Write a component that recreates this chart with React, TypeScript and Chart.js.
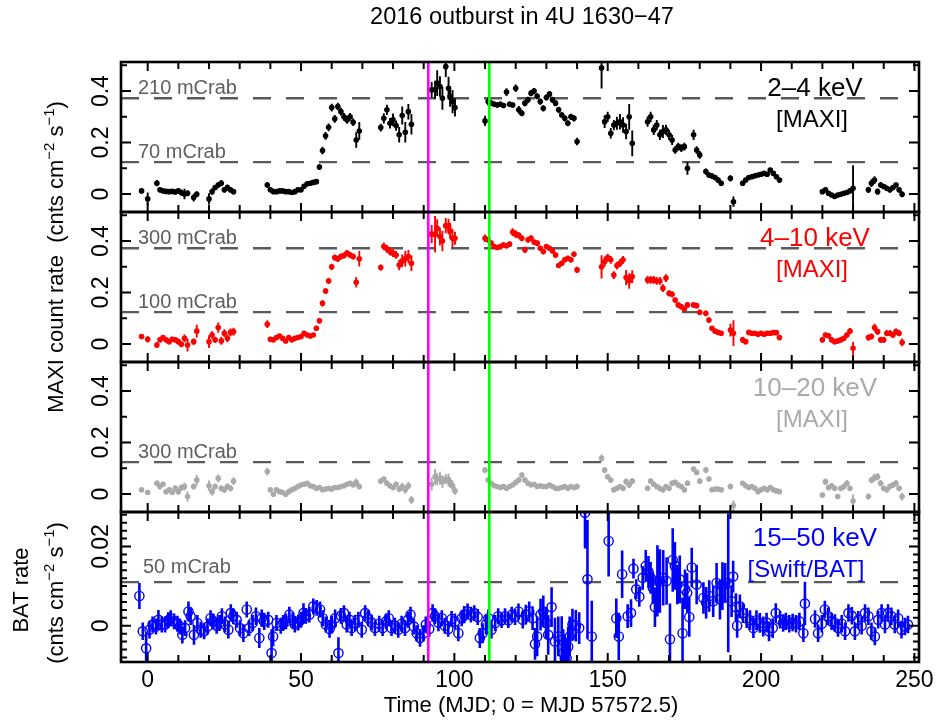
import React, { useEffect, useRef } from "react";
import { Chart, registerables } from "chart.js";

Chart.register(...registerables);

// ---------------- data ----------------
// MAXI sampling days (days since MJD 57572.5)
const maxiDays = [
  -2, 0,
  3, 4, 5, 6, 7, 8, 9, 10, 11, 12, 13,
  15, 16,
  20, 21, 22, 23, 24, 25, 26, 27, 28,
  39, 40, 41, 42, 43, 44, 45, 46, 47, 48, 49,
  50, 51, 52, 53, 54, 55,
  56, 57, 58, 59, 60, 61, 62, 63, 64, 65, 66, 67, 68, 69,
  76, 77, 78, 79, 80, 81, 82, 83, 84, 85, 86,
  92.6, 93.7, 94.4, 95.3, 96.1, 97.2, 98.1, 98.6, 99.4, 100.2,
  110, 111, 112, 113, 114, 115, 116, 117, 118, 119,
  120, 121, 122, 123, 124, 125, 126, 127, 128, 129,
  130, 131, 132, 133, 134, 135, 136, 137, 138, 139,
  140,
  148, 149, 150, 151, 152, 153, 154, 155, 156, 157, 158,
  163, 164, 165, 166, 167, 168, 169, 170, 171, 172, 173, 174, 175, 176,
  178, 179, 180, 182, 183, 184, 185, 186, 187,
  190, 191,
  194, 195, 196, 197, 198, 199, 200, 201, 202, 203, 204, 205, 206,
  220, 221, 222, 223, 224, 225, 226, 227, 228, 229, 230,
  235, 236, 237, 238, 239, 240, 241, 242, 243, 244, 245, 246,
];

// 2-4 keV MAXI rate
const maxiSoft = [
  0.012, -0.019,
  0.042, 0.016, 0.012, 0.010, 0.009, 0.010, 0.008, 0.012, 0.005, 0.000, 0.003,
  -0.014, -0.001,
  -0.019, 0.009, 0.025, 0.035, 0.042, 0.016, 0.025, 0.016, 0.009,
  0.035, 0.016, 0.009, 0.009, 0.012, 0.012, 0.009, 0.009, 0.006, 0.009, 0.016,
  0.016, 0.030, 0.040, 0.042, 0.045, 0.048,
  0.105, 0.169, 0.226, 0.259, 0.336, 0.292, 0.340, 0.320, 0.300, 0.288, 0.300, 0.279, 0.210, 0.245,
  0.258, 0.294, 0.327, 0.275, 0.288, 0.266, 0.230, 0.305, 0.240, 0.320, 0.271,
  0.405, 0.405, 0.431, 0.418, 0.372, 0.495, 0.411, 0.379, 0.359, 0.336,
  0.284, 0.359, 0.353, 0.349, 0.346, 0.349, 0.344, 0.396, 0.349, 0.346,
  0.411, 0.327, 0.314, 0.353, 0.366, 0.392, 0.400, 0.380, 0.359, 0.333,
  0.375, 0.388, 0.366, 0.353, 0.327, 0.307, 0.294, 0.275, 0.300, 0.294,
  0.204,
  0.490, 0.281, 0.300, 0.236, 0.268, 0.275, 0.281, 0.268, 0.243, 0.300, 0.197,
  0.281, 0.300, 0.249, 0.268, 0.230, 0.243, 0.249, 0.230, 0.210, 0.171, 0.184, 0.178, 0.184, 0.100,
  0.230, 0.171, 0.152, 0.087, 0.074, 0.070, 0.064, 0.054, 0.042,
  0.061, -0.030,
  0.042, 0.054, 0.064, 0.067, 0.071, 0.074, 0.077, 0.080, 0.077, 0.093, 0.080, 0.067, 0.054,
  0.009, 0.016, 0.003, -0.004, -0.010, -0.004, -0.001, 0.003, 0.006, 0.012, 0.022,
  0.016, 0.042, 0.054, 0.009, 0.035, 0.029, 0.022, 0.016, 0.025, 0.035, 0.016, -0.001,
];
const maxiSoftErr = [
  0.008, 0.025,
  0.012, 0.008, 0.008, 0.008, 0.008, 0.008, 0.010, 0.010, 0.012, 0.020, 0.012,
  0.015, 0.012,
  0.022, 0.012, 0.010, 0.012, 0.012, 0.010, 0.012, 0.010, 0.010,
  0.012, 0.008, 0.006, 0.006, 0.006, 0.006, 0.006, 0.006, 0.006, 0.008, 0.008,
  0.008, 0.008, 0.008, 0.008, 0.008, 0.010,
  0.012, 0.015, 0.015, 0.015, 0.015, 0.015, 0.015, 0.015, 0.015, 0.015, 0.015, 0.015, 0.030, 0.035,
  0.015, 0.020, 0.020, 0.020, 0.025, 0.020, 0.030, 0.035, 0.040, 0.030, 0.040,
  0.030, 0.035, 0.050, 0.040, 0.045, 0.040, 0.045, 0.040, 0.045, 0.035,
  0.020, 0.015, 0.010, 0.010, 0.010, 0.010, 0.010, 0.015, 0.010, 0.010,
  0.015, 0.015, 0.012, 0.012, 0.012, 0.012, 0.012, 0.012, 0.012, 0.012,
  0.012, 0.012, 0.012, 0.012, 0.012, 0.012, 0.012, 0.012, 0.012, 0.012,
  0.015,
  0.080, 0.025, 0.020, 0.020, 0.020, 0.025, 0.030, 0.030, 0.030, 0.050, 0.050,
  0.020, 0.020, 0.020, 0.020, 0.020, 0.025, 0.020, 0.020, 0.020, 0.015, 0.015, 0.015, 0.015, 0.025,
  0.020, 0.015, 0.015, 0.012, 0.010, 0.010, 0.010, 0.010, 0.010,
  0.012, 0.020,
  0.010, 0.008, 0.008, 0.008, 0.008, 0.008, 0.008, 0.008, 0.008, 0.008, 0.008, 0.008, 0.008,
  0.008, 0.008, 0.008, 0.008, 0.008, 0.008, 0.008, 0.008, 0.008, 0.008, 0.090,
  0.012, 0.015, 0.015, 0.012, 0.012, 0.010, 0.010, 0.010, 0.010, 0.010, 0.010, 0.012,
];

// 4-10 keV MAXI rate
const maxiMid = [
  0.029, 0.018,
  -0.004, 0.016, 0.025, 0.016, 0.009, 0.018, 0.016, 0.009, -0.001, 0.022, -0.004,
  0.009, 0.050,
  0.009, 0.035, 0.016, 0.064, 0.012, 0.042, 0.022, 0.045, 0.048,
  0.077, 0.018, 0.016, 0.025, 0.031, 0.022, 0.012, 0.025, 0.016, 0.022, 0.025,
  0.029, 0.042, 0.035, 0.031, 0.035, 0.061,
  0.090, 0.158, 0.206, 0.245, 0.300, 0.336, 0.331, 0.340, 0.344, 0.353, 0.346, 0.340, 0.240, 0.331,
  0.297, 0.379, 0.370, 0.359, 0.353, 0.346, 0.307, 0.323, 0.331, 0.340, 0.314,
  0.427, 0.427, 0.450, 0.418, 0.400, 0.460, 0.457, 0.440, 0.411, 0.411,
  0.411, 0.405, 0.392, 0.379, 0.375, 0.379, 0.385, 0.382, 0.388, 0.435,
  0.427, 0.422, 0.411, 0.366, 0.405, 0.411, 0.396, 0.392, 0.372, 0.359,
  0.379, 0.372, 0.362, 0.346, 0.305, 0.314, 0.327, 0.333, 0.327, 0.349,
  0.288,
  0.300, 0.320, 0.336, 0.327, 0.268, 0.305, 0.314, 0.327, 0.258, 0.245, 0.262,
  0.249, 0.249, 0.249, 0.245, 0.245, 0.217, 0.256, 0.197, 0.193, 0.171, 0.152, 0.145, 0.136, 0.152,
  0.152, 0.149, 0.123, 0.119, 0.093, 0.061, 0.050, 0.045, 0.042,
  0.054, 0.042,
  0.016, 0.009, 0.045, 0.042, 0.042, 0.038, 0.042, 0.038, 0.042, 0.042, 0.044, 0.044, 0.025,
  0.016, 0.035, 0.032, 0.016, 0.009, 0.012, 0.016, 0.022, 0.035, 0.050, -0.017,
  0.025, 0.029, 0.064, 0.048, 0.016, 0.016, 0.042, 0.042, 0.035, 0.048, 0.042, 0.006,
];
const maxiMidErr = [
  0.010, 0.012,
  0.012, 0.010, 0.010, 0.010, 0.010, 0.010, 0.010, 0.012, 0.012, 0.015, 0.025,
  0.012, 0.025,
  0.025, 0.015, 0.012, 0.020, 0.015, 0.015, 0.015, 0.015, 0.015,
  0.015, 0.010, 0.008, 0.008, 0.008, 0.008, 0.008, 0.008, 0.008, 0.008, 0.008,
  0.008, 0.008, 0.008, 0.008, 0.008, 0.010,
  0.010, 0.012, 0.012, 0.012, 0.012, 0.012, 0.012, 0.012, 0.012, 0.012, 0.012, 0.012, 0.020, 0.030,
  0.012, 0.015, 0.015, 0.015, 0.015, 0.015, 0.020, 0.025, 0.030, 0.025, 0.030,
  0.035, 0.070, 0.035, 0.035, 0.040, 0.030, 0.030, 0.030, 0.035, 0.025,
  0.015, 0.012, 0.010, 0.010, 0.010, 0.010, 0.010, 0.010, 0.010, 0.015,
  0.015, 0.012, 0.012, 0.012, 0.012, 0.012, 0.010, 0.010, 0.010, 0.010,
  0.010, 0.010, 0.010, 0.010, 0.010, 0.010, 0.010, 0.010, 0.010, 0.010,
  0.012,
  0.045, 0.020, 0.015, 0.015, 0.015, 0.015, 0.015, 0.015, 0.030, 0.030, 0.025,
  0.015, 0.015, 0.015, 0.015, 0.015, 0.015, 0.015, 0.012, 0.012, 0.010, 0.010, 0.010, 0.010, 0.010,
  0.010, 0.010, 0.010, 0.010, 0.010, 0.008, 0.008, 0.008, 0.008,
  0.025, 0.050,
  0.012, 0.010, 0.008, 0.008, 0.008, 0.008, 0.008, 0.008, 0.008, 0.008, 0.008, 0.008, 0.010,
  0.010, 0.010, 0.010, 0.010, 0.010, 0.010, 0.010, 0.010, 0.010, 0.012, 0.025,
  0.012, 0.012, 0.015, 0.012, 0.012, 0.012, 0.012, 0.012, 0.012, 0.012, 0.012, 0.015,
];

// 10-20 keV MAXI rate
const maxiHard = [
  0.016, 0.006,
  0.042, 0.029, 0.038, 0.009, 0.016, 0.006, 0.022, 0.009, 0.025, 0.029, -0.010,
  0.029, 0.054,
  0.032, 0.009, 0.029, 0.061, 0.022, 0.016, 0.029, 0.022, 0.050,
  0.087, 0.016, -0.001, 0.016, 0.009, 0.006, -0.001, 0.009, 0.016, 0.022, 0.029,
  0.035, 0.038, 0.042, 0.032, 0.029, 0.022,
  0.025, 0.016, 0.019, 0.022, 0.019, 0.025, 0.025, 0.029, 0.032, 0.038, 0.042, 0.035, 0.045, 0.029,
  0.050, 0.058, 0.042, 0.032, 0.025, 0.038, 0.019, 0.029, 0.016, 0.032, -0.023,
  0.038, 0.067, 0.058, 0.061, 0.048, 0.058, 0.054, 0.045, 0.032, 0.012,
  0.093, 0.054, 0.042, 0.032, 0.029, 0.025, 0.029, 0.022, 0.029, 0.035,
  0.045, 0.054, 0.074, 0.054, 0.042, 0.035, 0.038, 0.029, 0.032, 0.029,
  0.029, 0.035, 0.029, 0.022, 0.022, 0.025, 0.029, 0.022, 0.029, 0.025,
  0.029,
  0.139, 0.093, 0.067, 0.054, 0.016, 0.022, 0.029, 0.022, 0.048, 0.035, 0.050,
  0.022, 0.050, 0.038, 0.029, 0.022, 0.016, 0.029, 0.022, 0.042, 0.045, 0.035, 0.029, 0.016, 0.042,
  0.097, 0.084, 0.050, 0.093, 0.058, 0.016, 0.019, 0.019, 0.016,
  0.029, -0.045,
  0.042, 0.032, 0.025, 0.029, 0.022, 0.009, 0.016, 0.022, 0.016, 0.025, 0.016, 0.012, 0.009,
  -0.004, 0.048, 0.025, 0.032, 0.022, -0.010, 0.022, 0.029, 0.042, 0.022, -0.027,
  -0.010, 0.054, 0.064, 0.067, 0.042, 0.022, 0.016, 0.029, 0.035, 0.042, 0.022, -0.010,
];
const maxiHardErr = [
  0.008, 0.010,
  0.010, 0.012, 0.010, 0.010, 0.010, 0.010, 0.012, 0.012, 0.012, 0.015, 0.020,
  0.012, 0.020,
  0.020, 0.015, 0.012, 0.015, 0.012, 0.012, 0.012, 0.012, 0.015,
  0.015, 0.008, 0.008, 0.008, 0.008, 0.008, 0.008, 0.008, 0.008, 0.008, 0.008,
  0.008, 0.008, 0.008, 0.008, 0.008, 0.008,
  0.008, 0.008, 0.008, 0.008, 0.008, 0.008, 0.008, 0.008, 0.008, 0.008, 0.008, 0.008, 0.015, 0.012,
  0.010, 0.010, 0.010, 0.010, 0.010, 0.010, 0.012, 0.015, 0.015, 0.015, 0.015,
  0.025, 0.030, 0.025, 0.025, 0.025, 0.020, 0.025, 0.020, 0.020, 0.015,
  0.012, 0.010, 0.008, 0.008, 0.008, 0.008, 0.008, 0.008, 0.008, 0.008,
  0.010, 0.010, 0.010, 0.010, 0.008, 0.008, 0.008, 0.008, 0.008, 0.008,
  0.008, 0.008, 0.008, 0.008, 0.008, 0.008, 0.008, 0.008, 0.008, 0.008,
  0.012,
  0.015, 0.012, 0.010, 0.010, 0.010, 0.010, 0.010, 0.010, 0.012, 0.012, 0.012,
  0.010, 0.010, 0.010, 0.010, 0.010, 0.010, 0.010, 0.010, 0.010, 0.010, 0.010, 0.010, 0.010, 0.010,
  0.010, 0.010, 0.010, 0.012, 0.010, 0.008, 0.008, 0.008, 0.008,
  0.012, 0.020,
  0.008, 0.008, 0.008, 0.008, 0.008, 0.008, 0.008, 0.008, 0.008, 0.008, 0.008, 0.008, 0.008,
  0.010, 0.012, 0.010, 0.010, 0.010, 0.010, 0.010, 0.012, 0.012, 0.010, 0.025,
  0.012, 0.012, 0.015, 0.015, 0.012, 0.010, 0.010, 0.012, 0.012, 0.012, 0.010, 0.015,
];

// Swift/BAT 15-50 keV
const batDays = [
  -2.7, -1.6, -0.5, 0.6, 1.6, 2.7, 3.5, 4.6, 5.7, 6.7,
  7.5, 8.6, 9.7, 10.5, 11.3, 12.2, 13.3, 14.0, 15.1, 16.2,
  17.3, 18.4, 19.5, 20.5, 21.4, 22.5, 23.4, 24.2, 25.2, 26.3,
  27.1, 27.9, 29.0, 30.1, 31.2, 32.3, 33.1, 34.2, 35.3, 36.4,
  37.2, 38.0, 39.3, 40.4, 40.9, 42.0, 43.4, 44.2, 45.1, 46.2,
  47.3, 48.0, 49.1, 50.0, 50.8, 51.6, 52.7, 54.0, 55.1, 56.2,
  57.1, 58.1, 59.3, 60.0, 61.1, 62.2, 63.0, 64.0, 64.9, 65.8,
  66.5, 67.6, 68.7, 69.8, 70.9, 71.9, 73.0, 74.1, 75.5, 76.6,
  77.7, 78.6, 79.5, 80.6, 81.7, 82.8, 83.9, 84.9, 85.7, 86.8,
  87.7, 88.8, 89.9, 90.7, 91.8, 92.9, 93.7, 94.8, 95.9, 96.9,
  98.0, 99.1, 100.2, 101.3, 102.4, 103.2, 104.3, 105.4, 106.5, 107.6,
  108.3, 109.2, 110.3, 111.1, 112.1, 113.3, 114.3, 115.4, 116.5, 117.6,
  118.7, 119.8, 120.9, 122.3, 123.3, 124.4, 125.5, 126.3, 127.0, 128.1,
  129.0, 129.9, 130.6, 131.7, 132.8, 133.9, 135.0, 135.5, 136.0, 136.6,
  137.1, 137.6, 138.5, 139.6, 140.7, 142.6, 143.4, 144.8, 150.3, 152.8,
  153.6, 154.7, 156.5, 157.6, 158.4, 159.3, 160.3, 161.4, 162.4, 163.3,
  164.0, 164.7, 165.4, 166.2, 167.0, 168.1, 169.2, 170.3, 171.2, 171.9,
  172.7, 173.5, 174.4, 175.2, 175.9, 176.6, 177.4, 179.0, 181.2, 182.1,
  183.1, 184.4, 185.5, 186.6, 187.4, 188.3, 189.3, 190.4, 190.9, 191.8,
  192.2, 193.1, 194.1, 195.3, 196.4, 197.5, 198.5, 199.6, 200.7, 201.8,
  202.6, 203.8, 204.8, 206.2, 207.2, 208.1, 209.2, 210.3, 211.4, 212.5,
  213.8, 214.3, 217.6, 218.6, 219.8, 220.8, 221.9, 223.0, 224.1, 225.1,
  226.3, 227.4, 228.5, 229.6, 230.6, 231.7, 232.8, 233.9, 235.0, 236.0,
  237.1, 238.2, 239.3, 240.4, 241.4, 242.5, 243.6, 244.7, 245.8, 246.9,
  247.9,
];
const batRate = [
  0.0075, -0.0014, -0.0057, -0.0010, 0.0003, -0.0002, 0.0015, 0.0003, 0.0003, 0.0014,
  0.0019, 0.0011, 0.0005, -0.0002, -0.0023, -0.0006, 0.0036, 0.0024, -0.0023, 0.0007,
  -0.0010, -0.0014, -0.0002, 0.0019, 0.0011, 0.0000, 0.0007, 0.0024, 0.0003, -0.0010,
  0.0032, 0.0024, 0.0015, -0.0006, -0.0019, 0.0041, -0.0006, 0.0007, 0.0024, -0.0031,
  0.0019, 0.0011, 0.0015, -0.0069, -0.0027, 0.0007, 0.0000, 0.0007, 0.0011, 0.0028,
  0.0014, 0.0003, 0.0008, 0.0015, 0.0032, 0.0025, 0.0028, 0.0049, 0.0045, 0.0041,
  0.0019, 0.0003, -0.0008, 0.0003, 0.0019, -0.0069, 0.0025, 0.0032, 0.0003, 0.0015,
  -0.0006, 0.0007, 0.0015, -0.0010, 0.0032, 0.0019, 0.0008, -0.0006, 0.0005, -0.0006,
  0.0011, 0.0019, -0.0006, 0.0000, -0.0010, 0.0005, -0.0006, 0.0015, 0.0028, -0.0002,
  -0.0019, -0.0031, -0.0019, 0.0003, -0.0008, 0.0032, 0.0024, 0.0008, 0.0019, 0.0000,
  -0.0008, 0.0017, 0.0011, -0.0019, 0.0019, 0.0028, 0.0036, 0.0028, 0.0032, 0.0022,
  -0.0031, -0.0019, 0.0003, 0.0019, -0.0010, 0.0007, 0.0024, 0.0014, 0.0024, 0.0014,
  0.0028, 0.0022, 0.0036, 0.0015, 0.0028, 0.0036, 0.0019, -0.0046, -0.0027, 0.0028,
  0.0036, 0.0007, -0.0023, 0.0047, -0.0040, -0.0027, -0.0036, -0.0069, -0.0082, -0.0082,
  -0.0053, -0.0027, 0.0003, 0.0000, -0.0006, 0.0285, 0.0117, -0.0027, 0.0214, 0.0019,
  -0.0027, 0.0130, 0.0024, 0.0032, 0.0144, 0.0092, 0.0073, 0.0121, 0.0151, 0.0136,
  0.0121, 0.0096, 0.0047, 0.0113, 0.0113, 0.0121, 0.0113, -0.0034, 0.0166, 0.0151,
  0.0104, 0.0117, -0.0019, 0.0092, 0.0083, 0.0022, 0.0147, 0.0104, 0.0070, 0.0058,
  0.0075, 0.0062, 0.0108, 0.0066, 0.0100, 0.0108, 0.0108, 0.0062, 0.0124, 0.0047,
  0.0000, 0.0049, 0.0032, 0.0019, 0.0014, -0.0006, 0.0014, 0.0007, -0.0002, 0.0008,
  -0.0014, -0.0006, 0.0032, 0.0015, 0.0007, 0.0011, 0.0005, 0.0008, 0.0005, 0.0011,
  -0.0019, 0.0056, 0.0017, -0.0019, 0.0005, 0.0041, 0.0024, 0.0011, 0.0007, -0.0006,
  0.0005, -0.0014, 0.0032, 0.0025, -0.0014, 0.0015, 0.0000, 0.0032, 0.0024, -0.0014,
  -0.0027, 0.0015, 0.0032, 0.0003, 0.0032, 0.0024, 0.0003, 0.0019, -0.0010, -0.0002,
  0.0003,
];
const batErr = [
  0.0033, 0.0022, 0.0040, 0.0022, 0.0020, 0.0020, 0.0025, 0.0020, 0.0020, 0.0020,
  0.0020, 0.0020, 0.0020, 0.0020, 0.0022, 0.0020, 0.0025, 0.0022, 0.0025, 0.0020,
  0.0020, 0.0020, 0.0020, 0.0020, 0.0020, 0.0020, 0.0020, 0.0020, 0.0020, 0.0022,
  0.0022, 0.0020, 0.0020, 0.0020, 0.0022, 0.0020, 0.0020, 0.0020, 0.0022, 0.0025,
  0.0022, 0.0022, 0.0020, 0.0060, 0.0025, 0.0020, 0.0020, 0.0020, 0.0020, 0.0020,
  0.0020, 0.0020, 0.0020, 0.0020, 0.0025, 0.0020, 0.0020, 0.0020, 0.0020, 0.0020,
  0.0020, 0.0020, 0.0022, 0.0022, 0.0022, 0.0040, 0.0020, 0.0020, 0.0020, 0.0020,
  0.0020, 0.0020, 0.0020, 0.0020, 0.0020, 0.0020, 0.0020, 0.0020, 0.0020, 0.0020,
  0.0020, 0.0020, 0.0020, 0.0020, 0.0020, 0.0020, 0.0020, 0.0020, 0.0020, 0.0020,
  0.0020, 0.0022, 0.0020, 0.0020, 0.0020, 0.0022, 0.0020, 0.0022, 0.0020, 0.0020,
  0.0020, 0.0020, 0.0020, 0.0020, 0.0020, 0.0022, 0.0020, 0.0020, 0.0020, 0.0020,
  0.0025, 0.0025, 0.0025, 0.0022, 0.0022, 0.0020, 0.0020, 0.0020, 0.0020, 0.0020,
  0.0020, 0.0020, 0.0020, 0.0022, 0.0025, 0.0025, 0.0030, 0.0040, 0.0050, 0.0040,
  0.0040, 0.0040, 0.0050, 0.0050, 0.0060, 0.0050, 0.0060, 0.0060, 0.0060, 0.0050,
  0.0050, 0.0050, 0.0040, 0.0040, 0.0040, 0.0090, 0.0150, 0.0090, 0.0090, 0.0050,
  0.0060, 0.0060, 0.0030, 0.0035, 0.0025, 0.0025, 0.0025, 0.0030, 0.0040, 0.0040,
  0.0040, 0.0040, 0.0050, 0.0090, 0.0080, 0.0070, 0.0060, 0.0090, 0.0080, 0.0060,
  0.0050, 0.0060, 0.0090, 0.0050, 0.0050, 0.0050, 0.0050, 0.0050, 0.0040, 0.0040,
  0.0040, 0.0040, 0.0050, 0.0050, 0.0060, 0.0050, 0.0175, 0.0040, 0.0040, 0.0035,
  0.0030, 0.0030, 0.0025, 0.0025, 0.0025, 0.0025, 0.0025, 0.0025, 0.0025, 0.0025,
  0.0025, 0.0025, 0.0025, 0.0022, 0.0022, 0.0022, 0.0022, 0.0022, 0.0022, 0.0022,
  0.0022, 0.0055, 0.0022, 0.0022, 0.0022, 0.0022, 0.0022, 0.0022, 0.0022, 0.0022,
  0.0022, 0.0022, 0.0022, 0.0022, 0.0022, 0.0022, 0.0022, 0.0022, 0.0022, 0.0022,
  0.0022, 0.0022, 0.0022, 0.0022, 0.0022, 0.0022, 0.0022, 0.0022, 0.0022, 0.0022,
  0.0022,
];

// axes / annotation values
const xMajorTicks = [0, 50, 100, 150, 200, 250];
const maxiTickValues = [0, 0.2, 0.4];
const batTickValues = [0, 0.02];
const eventDays = [91.5, 111.4];
const softCrabLevels = [0.372, 0.124];
const softCrabNames = ["210 mCrab", "70 mCrab"];
const midCrabLevels = [0.372, 0.124];
const midCrabNames = ["300 mCrab", "100 mCrab"];
const hardCrabLevels = [0.124];
const hardCrabNames = ["300 mCrab"];
const batCrabLevels = [0.011];
const batCrabNames = ["50 mCrab"];
const bandNames = ["2\u20134 keV", "4\u201310 keV", "10\u201320 keV", "15\u201350 keV"];
const instrumentNames = ["[MAXI]", "[MAXI]", "[MAXI]", "[Swift/BAT]"];
const chartTitle = "2016 outburst in 4U 1630\u221247";
const xTitle = "Time (MJD; 0 = MJD 57572.5)";

// ---------------- styling ----------------
const FONT = '"Liberation Sans", Arial, Helvetica, sans-serif';
const font = (s: number) => `${s}px ${FONT}`;
const AXES = ["y1", "y2", "y3", "y4"];
const COLORS = ["#000000", "#ff0000", "#aaaaaa", "#0000ff"];
const EVENT_COLORS = ["#ff00ff", "#00ff00"];
const MAXI_RANGE = [-0.07, 0.513];
const BAT_RANGE = [-0.00915, 0.0287];
const X_RANGE = [-8.7, 251.5];

type Seg = { t: string; sup?: boolean };

function richText(ctx: CanvasRenderingContext2D, segs: Seg[], cx: number, cy: number, size: number, rotated: boolean, color: string, align: "center" | "left" = "center") {
  ctx.save();
  ctx.translate(cx, cy);
  if (rotated) ctx.rotate(-Math.PI / 2);
  ctx.fillStyle = color;
  ctx.textAlign = "left";
  ctx.textBaseline = "alphabetic";
  const supSize = size * 0.68;
  const ws = segs.map((s) => {
    ctx.font = font(s.sup ? supSize : size);
    return ctx.measureText(s.t).width;
  });
  const total = ws.reduce((a, b) => a + b, 0);
  let x = align === "center" ? -total / 2 : 0;
  const base = size * 0.36;
  segs.forEach((s, i) => {
    ctx.font = font(s.sup ? supSize : size);
    ctx.fillText(s.t, x, s.sup ? base - size * 0.42 : base);
    x += ws[i];
  });
  ctx.restore();
}

const crabSets = [
  { axis: "y1", levels: softCrabLevels, names: softCrabNames, dx: 17, dy: -11 },
  { axis: "y2", levels: midCrabLevels, names: midCrabNames, dx: 17, dy: -11 },
  { axis: "y3", levels: hardCrabLevels, names: hardCrabNames, dx: 17, dy: -11 },
  { axis: "y4", levels: batCrabLevels, names: batCrabNames, dx: 22, dy: -16 },
];

const errorSets = [maxiSoftErr, maxiMidErr, maxiHardErr, batErr];

const decorPlugin = {
  id: "decor",
  beforeDatasetsDraw(chart: any) {
    const ctx: CanvasRenderingContext2D = chart.ctx;
    const a = chart.chartArea;
    const xs = chart.scales.x;
    // dashed mCrab reference lines
    crabSets.forEach((c) => {
      const ys = chart.scales[c.axis];
      c.levels.forEach((lv, i) => {
        const y = ys.getPixelForValue(lv);
        ctx.save();
        ctx.strokeStyle = "#5a5a5a";
        ctx.lineWidth = 2.4;
        ctx.setLineDash([18, 15]);
        ctx.beginPath();
        ctx.moveTo(a.left, y);
        ctx.lineTo(xs.getPixelForValue(248.6), y);
        ctx.stroke();
        ctx.restore();
        richText(ctx, [{ t: c.names[i] }], a.left + c.dx, y + c.dy, 20, false, "#5f5f5f", "left");
      });
    });
    // error bars
    chart.data.datasets.forEach((ds: any, di: number) => {
      const ys = chart.scales[ds.yAxisID];
      const errs = errorSets[di];
      ctx.save();
      ctx.beginPath();
      ctx.rect(a.left, ys.top, a.right - a.left, ys.bottom - ys.top);
      ctx.clip();
      ctx.strokeStyle = COLORS[di];
      ctx.lineWidth = di === 3 ? 2.6 : 1.9;
      ctx.beginPath();
      ds.data.forEach((p: any, i: number) => {
        const e = errs[i] ?? 0;
        const x = xs.getPixelForValue(p.x);
        ctx.moveTo(x, ys.getPixelForValue(p.y - e));
        ctx.lineTo(x, ys.getPixelForValue(p.y + e));
      });
      ctx.stroke();
      ctx.restore();
    });
  },
  afterDatasetsDraw(chart: any) {
    const ctx: CanvasRenderingContext2D = chart.ctx;
    const a = chart.chartArea;
    const xs = chart.scales.x;
    // event lines
    eventDays.forEach((d, i) => {
      const x = xs.getPixelForValue(d);
      ctx.save();
      ctx.strokeStyle = EVENT_COLORS[i];
      ctx.lineWidth = 2.6;
      ctx.beginPath();
      ctx.moveTo(x, a.top);
      ctx.lineTo(x, a.bottom);
      ctx.stroke();
      ctx.restore();
    });
    // ticks
    ctx.save();
    ctx.strokeStyle = "#000";
    ctx.lineWidth = 2;
    ctx.beginPath();
    AXES.forEach((id, pi) => {
      const s = chart.scales[id];
      for (let v = 0; v <= 250; v += 10) {
        const x = xs.getPixelForValue(v);
        const len = xMajorTicks.includes(v) ? 9 : 7;
        ctx.moveTo(x, s.top);
        ctx.lineTo(x, s.top + len);
        ctx.moveTo(x, s.bottom);
        ctx.lineTo(x, s.bottom - len);
      }
      const isBat = pi === 3;
      const majors = isBat ? batTickValues : maxiTickValues;
      const step = isBat ? 0.002 : 0.1;
      for (let k = -10; k <= 20; k++) {
        const v = k * step;
        if (v < s.min || v > s.max) continue;
        const y = s.getPixelForValue(v);
        const isMajor = majors.some((m) => Math.abs(m - v) < step / 10);
        const len = isMajor ? 10 : 6;
        ctx.moveTo(a.left, y);
        ctx.lineTo(a.left + len, y);
        ctx.moveTo(a.right, y);
        ctx.lineTo(a.right - len, y);
      }
    });
    ctx.stroke();
    ctx.lineWidth = 2.6;
    AXES.forEach((id) => {
      const s = chart.scales[id];
      ctx.strokeRect(a.left, s.top, a.right - a.left, s.bottom - s.top);
    });
    ctx.restore();
  },
  afterDraw(chart: any) {
    const ctx: CanvasRenderingContext2D = chart.ctx;
    const a = chart.chartArea;
    const xs = chart.scales.x;
    // x tick labels
    xMajorTicks.forEach((v) => {
      richText(ctx, [{ t: String(v) }], xs.getPixelForValue(v), a.bottom + 17, 23, false, "#000");
    });
    // y tick labels
    AXES.forEach((id, pi) => {
      const s = chart.scales[id];
      const vals = pi === 3 ? batTickValues : maxiTickValues;
      vals.forEach((v) => {
        richText(ctx, [{ t: String(v) }], 100, s.getPixelForValue(v), 23, true, "#000");
      });
      // band labels
      richText(ctx, [{ t: bandNames[pi] }], a.right - 104, s.top + 25, 26, false, COLORS[pi]);
      richText(ctx, [{ t: instrumentNames[pi] }], a.right - (pi === 3 ? 113 : 107), s.top + 56, 24, false, COLORS[pi]);
    });
    // titles
    richText(ctx, [{ t: chartTitle }], 522, 16, 23.5, false, "#000");
    richText(ctx, [{ t: xTitle }], 531, a.bottom + 42, 22, false, "#000");
    const units: Seg[] = [{ t: "(cnts cm" }, { t: "\u22122", sup: true }, { t: " s" }, { t: "\u22121", sup: true }, { t: ")" }];
    richText(ctx, [{ t: "MAXI count rate  " }, ...units], 55, 257, 22, true, "#000");
    richText(ctx, [{ t: "BAT rate" }], 20, 590, 22, true, "#000");
    richText(ctx, units, 55, 593, 22, true, "#000");
  },
};

export default function App() {
  const ref = useRef<HTMLCanvasElement>(null);
  useEffect(() => {
    document.body.style.margin = "0";
    const canvas = ref.current;
    if (!canvas) return;
    const maxiPoint = (color: string) => ({
      pointRadius: 2.8,
      pointHoverRadius: 2.8,
      pointBackgroundColor: color,
      pointBorderColor: color,
      pointBorderWidth: 0,
      showLine: false,
    });
    const yScale = (range: number[], weight: number) => ({
      type: "linear" as const,
      position: "left" as const,
      stack: "panels",
      stackWeight: 1,
      weight,
      min: range[0],
      max: range[1],
      display: false,
    });
    const chart = new Chart(canvas, {
      type: "scatter",
      data: {
        datasets: [
          { label: bandNames[0], data: maxiDays.map((d, i) => ({ x: d, y: maxiSoft[i] })), yAxisID: "y1", ...maxiPoint(COLORS[0]) },
          { label: bandNames[1], data: maxiDays.map((d, i) => ({ x: d, y: maxiMid[i] })), yAxisID: "y2", ...maxiPoint(COLORS[1]) },
          { label: bandNames[2], data: maxiDays.map((d, i) => ({ x: d, y: maxiHard[i] })), yAxisID: "y3", ...maxiPoint(COLORS[2]) },
          {
            label: bandNames[3],
            data: batDays.map((d, i) => ({ x: d, y: batRate[i] })),
            yAxisID: "y4",
            pointRadius: 4.6,
            pointHoverRadius: 4.6,
            pointBackgroundColor: "rgba(0,0,0,0)",
            pointBorderColor: COLORS[3],
            pointBorderWidth: 1.4,
            showLine: false,
          },
        ],
      },
      options: {
        animation: false,
        responsive: false,
        maintainAspectRatio: false,
        events: [],
        layout: { padding: { left: 121, right: 17, top: 62, bottom: 61 } },
        plugins: { legend: { display: false }, tooltip: { enabled: false }, title: { display: false } },
        scales: {
          x: { type: "linear", position: "bottom", min: X_RANGE[0], max: X_RANGE[1], display: false },
          y1: yScale(MAXI_RANGE, 4),
          y2: yScale(MAXI_RANGE, 3),
          y3: yScale(MAXI_RANGE, 2),
          y4: yScale(BAT_RANGE, 1),
        },
      } as any,
      plugins: [decorPlugin],
    });
    return () => chart.destroy();
  }, []);
  return <canvas ref={ref} width={936} height={723} style={{ display: "block", width: 936, height: 723 }} />;
}
